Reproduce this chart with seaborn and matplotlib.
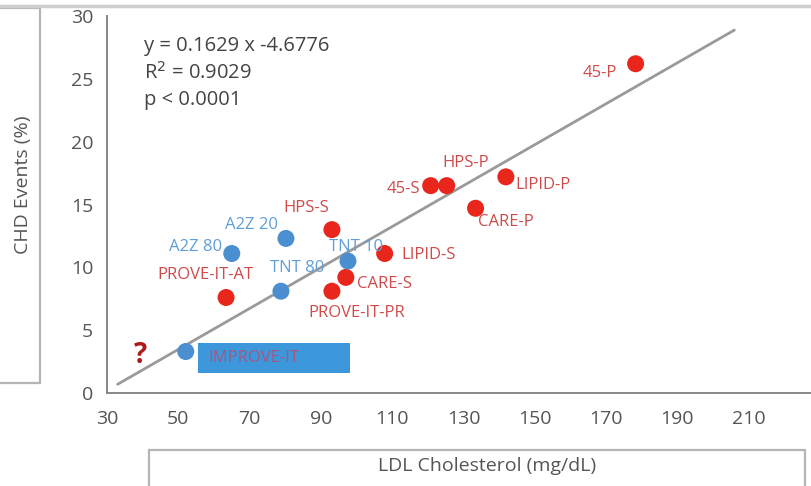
import matplotlib
matplotlib.use("Agg")
import matplotlib.pyplot as plt
from matplotlib.patches import Rectangle
from matplotlib.lines import Line2D
import numpy as np
import pandas as pd
import seaborn as sns

# Trial results: mean achieved LDL cholesterol vs. CHD event rate
trials = ["45-P", "HPS-P", "45-S", "LIPID-P", "CARE-P", "LIPID-S", "HPS-S",
          "CARE-S", "PROVE-IT-PR", "PROVE-IT-AT",
          "TNT 10", "TNT 80", "A2Z 20", "A2Z 80", "IMPROVE-IT"]
ldl = [178.3, 125.3, 120.8, 141.9, 133.4, 107.9, 93.1,
       97.0, 93.1, 63.4,
       97.6, 78.8, 80.2, 65.0, 52.1]
chd = [26.2, 16.5, 16.5, 17.2, 14.7, 11.1, 13.0,
       9.2, 8.1, 7.6,
       10.5, 8.1, 12.3, 11.1, 3.3]
group = ["red"] * 10 + ["blue"] * 5

# Regression reported on the chart
slope, intercept = 0.1629, -4.6776
fit_x = [33.0, 206.0]

# Label placement (offset in pixels from the point, alignment)
label_pos = {
    "45-P": (-19, -9, "right"),
    "HPS-P": (19, 23, "center"),
    "45-S": (-11, -3, "right"),
    "LIPID-P": (10, -8, "left"),
    "CARE-P": (2, -14, "left"),
    "LIPID-S": (17, -1, "left"),
    "HPS-S": (-26, 22, "center"),
    "CARE-S": (11, -7, "left"),
    "PROVE-IT-PR": (25, -22, "center"),
    "PROVE-IT-AT": (-21, 22, "center"),
    "TNT 10": (8, 14, "center"),
    "TNT 80": (16, 23, "center"),
    "A2Z 20": (-34, 13, "center"),
    "A2Z 80": (-10, 7, "right"),
}

df = pd.DataFrame({"trial": trials, "ldl": ldl, "chd": chd, "group": group})

sns.set_style("white")
plt.rcParams["font.family"] = ["Open Sans", "DejaVu Sans"]

W, H = 811, 486
fig = plt.figure(figsize=(W / 100, H / 100), dpi=100)
ax = fig.add_axes([107 / W, (H - 393) / H, (W - 107) / W, (393 - 16) / H])

point_colors = {"red": "#e8261c", "blue": "#4a8fd0"}
label_colors = {"red": "#cf4a4a", "blue": "#5f9fd6"}

# Regression line
fx = np.array(fit_x)
ax.plot(fx, slope * fx + intercept, color="#9a9a9a", lw=2.0, zorder=1)

# IMPROVE-IT highlight bar
ax.add_patch(Rectangle((55.5, 1.6), 42.6, 2.4, facecolor="#3d97db",
                       edgecolor="none", zorder=2))
ax.text(58.5, 2.8, "IMPROVE-IT", color="#c0466a", fontsize=12,
        va="center", ha="left", zorder=3, alpha=0.8)

sns.scatterplot(data=df, x="ldl", y="chd", hue="group", palette=point_colors,
                s=150, edgecolor="none", legend=False, ax=ax, zorder=4)

for name, x, y, g in zip(trials, ldl, chd, group):
    if name not in label_pos:
        continue
    dx, dy, ha = label_pos[name]
    ax.annotate(name, (x, y), xytext=(dx, dy), textcoords="offset pixels",
                ha=ha, va="center", fontsize=12, color=label_colors[g],
                zorder=5)

ax.text(39.5, 3.0, "?", color="#b01818", fontsize=20, fontweight="bold",
        ha="center", va="center")

ax.text(40.5, 27.6, "y = 0.1629 x -4.6776", fontsize=14.5, color="#444444",
        va="center")
ax.text(40.5, 25.45, "R$^2$ = 0.9029", fontsize=14.5, color="#444444",
        va="center")
ax.text(40.5, 23.3, "p < 0.0001", fontsize=14.5, color="#444444",
        va="center")

ax.set_xlim(30, 227.5)
ax.set_ylim(0, 30)
ax.set_xticks(np.arange(30, 211, 20))
ax.set_yticks(np.arange(0, 31, 5))
ax.tick_params(axis="both", direction="out", length=6, width=1.2,
               colors="#777777", labelcolor="#555555", labelsize=14)
ax.tick_params(axis="x", pad=6)
ax.tick_params(axis="y", pad=4)
for side in ["top", "right"]:
    ax.spines[side].set_visible(False)
for side in ["left", "bottom"]:
    ax.spines[side].set_color("#888888")
    ax.spines[side].set_linewidth(1.4)
ax.set_xlabel("")
ax.set_ylabel("")

# Axis title panels
fig.add_artist(Line2D([0, 1], [1 - 6 / H, 1 - 6 / H], color="#cfcfcf", lw=2.5))
fig.add_artist(Rectangle((-5 / W, (H - 383) / H), 45 / W, 375 / H,
                         fill=False, edgecolor="#b5b5b5", lw=1.6))
fig.text(23 / W, 1 - 185 / H, "CHD Events (%)", rotation=90, fontsize=14,
         color="#555555", ha="center", va="center")
fig.add_artist(Rectangle((149 / W, -10 / H), 656 / W, 46 / H,
                         fill=False, edgecolor="#b5b5b5", lw=1.6))
fig.text(487 / W, 1 - 466 / H, "LDL Cholesterol (mg/dL)", fontsize=14,
         color="#555555", ha="center", va="center")

fig.savefig("out.png", dpi=100)
